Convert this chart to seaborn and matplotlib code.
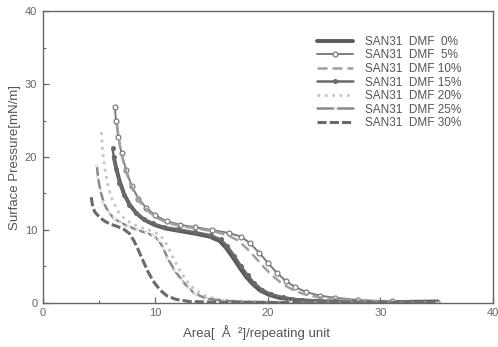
# %%
# === Load modules ===
import numpy as np
import pandas as pd
import seaborn as sns
import matplotlib.pyplot as plt
from matplotlib.ticker import MultipleLocator

# %%
# === Data: surface pressure - area isotherms ===
LABELS = ['SAN31  DMF  0%', 'SAN31  DMF  5%', 'SAN31  DMF 10%', 'SAN31  DMF 15%',
          'SAN31  DMF 20%', 'SAN31  DMF 25%', 'SAN31  DMF 30%']

x_0  = [6.3, 6.5, 6.8, 7.2, 7.7, 8.3, 9.0, 9.9, 10.9, 12.0, 13.5, 14.8, 15.7, 16.3, 16.9,
        17.5, 18.1, 18.7, 19.3, 20.1, 21.0, 22.5, 25.0, 30.0, 35.0]
y_0  = [20.0, 18.6, 16.8, 15.0, 13.5, 12.3, 11.4, 10.7, 10.2, 9.9, 9.5, 9.1, 8.5, 7.5, 6.2,
        4.8, 3.5, 2.5, 1.7, 1.1, 0.7, 0.4, 0.2, 0.1, 0.2]

x_5  = [6.4, 6.5, 6.7, 7.0, 7.4, 7.9, 8.5, 9.2, 10.0, 11.0, 12.2, 13.5, 15.0, 16.5, 17.6,
        18.4, 19.2, 20.0, 20.8, 21.6, 22.4, 23.4, 24.6, 26.0, 28.0, 31.0, 35.0]
y_5  = [26.8, 25.0, 22.8, 20.5, 18.2, 16.0, 14.3, 13.0, 12.0, 11.2, 10.7, 10.4, 10.0, 9.6, 9.1,
        8.2, 6.9, 5.5, 4.1, 3.0, 2.2, 1.5, 1.0, 0.7, 0.4, 0.2, 0.1]

x_10 = [6.6, 6.7, 6.9, 7.2, 7.6, 8.1, 8.7, 9.4, 10.2, 11.2, 12.4, 13.7, 15.2, 16.4, 17.3,
        18.1, 18.9, 19.7, 20.5, 21.3, 22.2, 23.2, 24.4, 26.0, 28.0, 31.0, 35.0]
y_10 = [24.5, 23.0, 21.0, 19.0, 17.0, 15.2, 13.7, 12.5, 11.6, 10.9, 10.5, 10.2, 9.8, 9.3, 8.6,
        7.5, 6.2, 4.8, 3.6, 2.6, 1.8, 1.2, 0.8, 0.5, 0.3, 0.15, 0.1]

x_15 = [6.2, 6.3, 6.5, 6.8, 7.2, 7.7, 8.3, 9.0, 9.8, 10.8, 12.0, 13.5, 14.9, 15.8, 16.4,
        17.0, 17.6, 18.2, 18.8, 19.5, 20.3, 21.3, 23.0, 26.0, 30.0, 35.0]
y_15 = [21.2, 20.0, 18.3, 16.5, 14.8, 13.4, 12.3, 11.5, 10.9, 10.4, 10.1, 9.7, 9.3, 8.7, 7.8,
        6.5, 5.1, 3.8, 2.7, 1.8, 1.2, 0.8, 0.4, 0.2, 0.1, 0.1]

x_20 = [5.2, 5.3, 5.5, 5.8, 6.2, 6.7, 7.3, 8.0, 8.8, 9.6, 10.3, 10.8, 11.2, 11.7, 12.3,
        12.9, 13.6, 14.4, 15.5, 17.0, 20.0, 25.0, 30.0, 35.0]
y_20 = [23.4, 21.0, 18.5, 16.0, 14.0, 12.5, 11.5, 10.8, 10.3, 9.9, 9.4, 8.6, 7.4, 5.8, 4.1,
        2.8, 1.7, 1.0, 0.5, 0.25, 0.1, 0.05, 0.03, 0.0]

x_25 = [4.8, 4.9, 5.1, 5.4, 5.8, 6.3, 6.9, 7.6, 8.4, 9.2, 9.8, 10.3, 10.7, 11.1, 11.7,
        12.3, 12.9, 13.5, 14.5, 16.0, 18.0, 22.0, 28.0, 35.0]
y_25 = [18.9, 17.2, 15.5, 13.8, 12.5, 11.6, 11.0, 10.5, 10.0, 9.6, 9.2, 8.6, 7.5, 6.1, 4.5,
        3.2, 2.1, 1.3, 0.6, 0.3, 0.15, 0.08, 0.04, 0.0]

x_30 = [4.3, 4.4, 4.6, 5.0, 5.5, 6.0, 6.6, 7.2, 7.7, 8.1, 8.5, 8.9, 9.3, 9.8, 10.4,
        11.0, 11.8, 13.0, 15.0, 20.0, 25.0, 30.0, 35.0]
y_30 = [14.5, 13.5, 12.5, 11.8, 11.2, 10.8, 10.5, 10.1, 9.5, 8.5, 7.2, 5.8, 4.4, 3.0, 1.8,
        1.0, 0.5, 0.2, 0.1, 0.05, 0.03, 0.02, 0.0]

# === Styles (scan is grey-scale) ===
STYLES = [
    dict(color='#5a5a5a', lw=2.8, ls='-'),
    dict(color='#7c7c7c', lw=1.4, ls='-', marker='o', ms=3.5, mfc='white', mec='#7c7c7c', mew=0.9),
    dict(color='#a0a0a0', lw=1.8, ls=(0, (4, 2))),
    dict(color='#6a6a6a', lw=1.8, ls='-', marker='o', ms=2.8, mfc='#6a6a6a', mec='#6a6a6a'),
    dict(color='#c4c4c4', lw=2.0, ls=':'),
    dict(color='#8a8a8a', lw=1.8, ls='-', marker='x', ms=3, mew=0.8),
    dict(color='#6a6a6a', lw=2.2, ls=(0, (3, 1))),
]

# %%
# === Plot ===
sns.set_style("ticks")
plt.rcParams['font.family'] = ['Liberation Sans', 'DejaVu Sans']

fig = plt.figure(figsize=(4.98, 3.47), dpi=100)
ax = fig.add_axes([0.086, 0.127, 0.904, 0.841])

series = [(x_0, y_0), (x_5, y_5), (x_10, y_10), (x_15, y_15),
          (x_20, y_20), (x_25, y_25), (x_30, y_30)]
for (xs, ys), lab, st in zip(series, LABELS, STYLES):
    sns.lineplot(x=xs, y=ys, ax=ax, sort=False, label=lab, **st)

ax.set_xlim(0, 40)
ax.set_ylim(0, 40)
ax.xaxis.set_major_locator(MultipleLocator(10))
ax.yaxis.set_major_locator(MultipleLocator(10))
ax.xaxis.set_minor_locator(MultipleLocator(5))
ax.yaxis.set_minor_locator(MultipleLocator(5))
ax.tick_params(which='both', direction='in', colors='#666666', labelcolor='#666666',
               labelsize=8, top=False, right=False)
ax.tick_params(which='major', length=4, width=0.9)
ax.tick_params(which='minor', length=2.5, width=0.8)
ax.tick_params(axis='x', pad=4)
ax.tick_params(axis='y', pad=4)
for sp in ax.spines.values():
    sp.set_color('#666666')
    sp.set_linewidth(1.0)

ax.set_xlabel('Area[  Å  ²]/repeating unit', fontsize=9.5, color='#555555')
ax.set_ylabel('Surface Pressure[mN/m]', fontsize=9.5, color='#555555')
ax.xaxis.set_label_coords(0.475, -0.075)
ax.yaxis.set_label_coords(-0.048, 0.5)

leg = ax.legend(loc='upper left', bbox_to_anchor=(0.61, 0.915), frameon=False,
                fontsize=8.5, labelspacing=0.13, handlelength=3.0, handletextpad=1.0,
                borderpad=0, borderaxespad=0, numpoints=1)
for t in leg.get_texts():
    t.set_color('#555555')

fig.savefig('out.png', dpi=100)
